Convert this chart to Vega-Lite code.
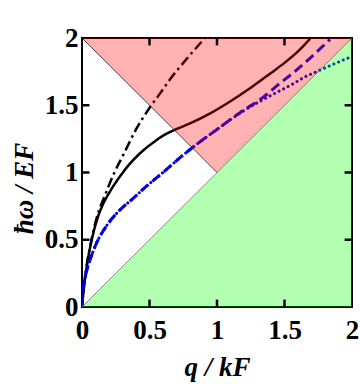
{
  "$schema": "https://vega.github.io/schema/vega-lite/v6.json",
  "width": 270,
  "height": 269,
  "autosize": "none",
  "padding": {"left": 82, "top": 38, "right": 8, "bottom": 81},
  "background": "white",
  "config": {
    "view": {"stroke": "black", "strokeWidth": 2},
    "axis": {
      "domain": false,
      "grid": false,
      "ticks": false,
      "format": "~g",
      "labelFont": "Liberation Serif",
      "labelFontWeight": "bold",
      "labelFontSize": 27,
      "labelColor": "black",
      "titleFont": "Liberation Serif",
      "titleFontWeight": "bold",
      "titleFontStyle": "italic",
      "titleFontSize": 27,
      "titleColor": "black"
    }
  },
  "datasets": {
    "curves": [
      {"curve": "solid", "q": 0, "w": 0},
      {"curve": "solid", "q": 0.005, "w": 0.05},
      {"curve": "solid", "q": 0.015, "w": 0.15},
      {"curve": "solid", "q": 0.035, "w": 0.3},
      {"curve": "solid", "q": 0.072, "w": 0.5},
      {"curve": "solid", "q": 0.121, "w": 0.68},
      {"curve": "solid", "q": 0.158, "w": 0.77},
      {"curve": "solid", "q": 0.22, "w": 0.88},
      {"curve": "solid", "q": 0.281, "w": 0.97},
      {"curve": "solid", "q": 0.35, "w": 1.06},
      {"curve": "solid", "q": 0.43, "w": 1.143},
      {"curve": "solid", "q": 0.553, "w": 1.242},
      {"curve": "solid", "q": 0.62, "w": 1.285},
      {"curve": "solid", "q": 0.689, "w": 1.318},
      {"curve": "solid", "q": 0.8, "w": 1.365},
      {"curve": "solid", "q": 0.95, "w": 1.44},
      {"curve": "solid", "q": 1.1, "w": 1.53},
      {"curve": "solid", "q": 1.25, "w": 1.63},
      {"curve": "solid", "q": 1.4, "w": 1.74},
      {"curve": "solid", "q": 1.5, "w": 1.815},
      {"curve": "solid", "q": 1.6, "w": 1.9},
      {"curve": "solid", "q": 1.69, "w": 1.995},
      {"curve": "dashdot", "q": 0, "w": 0},
      {"curve": "dashdot", "q": 0.005, "w": 0.06},
      {"curve": "dashdot", "q": 0.015, "w": 0.16},
      {"curve": "dashdot", "q": 0.035, "w": 0.31},
      {"curve": "dashdot", "q": 0.07, "w": 0.5},
      {"curve": "dashdot", "q": 0.12, "w": 0.7},
      {"curve": "dashdot", "q": 0.17, "w": 0.83},
      {"curve": "dashdot", "q": 0.24, "w": 1.0},
      {"curve": "dashdot", "q": 0.31, "w": 1.14},
      {"curve": "dashdot", "q": 0.4, "w": 1.32},
      {"curve": "dashdot", "q": 0.5, "w": 1.48},
      {"curve": "dashdot", "q": 0.58, "w": 1.59},
      {"curve": "dashdot", "q": 0.65, "w": 1.69},
      {"curve": "dashdot", "q": 0.78, "w": 1.85},
      {"curve": "dashdot", "q": 0.91, "w": 2.0},
      {"curve": "dashed", "q": 0, "w": 0},
      {"curve": "dashed", "q": 0.003, "w": 0.08},
      {"curve": "dashed", "q": 0.01, "w": 0.15},
      {"curve": "dashed", "q": 0.025, "w": 0.23},
      {"curve": "dashed", "q": 0.047, "w": 0.31},
      {"curve": "dashed", "q": 0.096, "w": 0.448},
      {"curve": "dashed", "q": 0.195, "w": 0.622},
      {"curve": "dashed", "q": 0.28, "w": 0.72},
      {"curve": "dashed", "q": 0.37, "w": 0.8},
      {"curve": "dashed", "q": 0.48, "w": 0.9},
      {"curve": "dashed", "q": 0.6, "w": 1.0},
      {"curve": "dashed", "q": 0.726, "w": 1.11},
      {"curve": "dashed", "q": 0.85, "w": 1.21},
      {"curve": "dashed", "q": 1.0, "w": 1.32},
      {"curve": "dashed", "q": 1.17, "w": 1.445},
      {"curve": "dashed", "q": 1.343, "w": 1.56},
      {"curve": "dashed", "q": 1.45, "w": 1.65},
      {"curve": "dashed", "q": 1.565, "w": 1.742},
      {"curve": "dashed", "q": 1.7, "w": 1.86},
      {"curve": "dashed", "q": 1.837, "w": 1.99},
      {"curve": "dotted", "q": 0, "w": 0},
      {"curve": "dotted", "q": 0.003, "w": 0.08},
      {"curve": "dotted", "q": 0.01, "w": 0.15},
      {"curve": "dotted", "q": 0.025, "w": 0.23},
      {"curve": "dotted", "q": 0.047, "w": 0.31},
      {"curve": "dotted", "q": 0.096, "w": 0.448},
      {"curve": "dotted", "q": 0.195, "w": 0.622},
      {"curve": "dotted", "q": 0.28, "w": 0.72},
      {"curve": "dotted", "q": 0.37, "w": 0.8},
      {"curve": "dotted", "q": 0.48, "w": 0.9},
      {"curve": "dotted", "q": 0.6, "w": 1.0},
      {"curve": "dotted", "q": 0.726, "w": 1.11},
      {"curve": "dotted", "q": 0.85, "w": 1.21},
      {"curve": "dotted", "q": 1.0, "w": 1.32},
      {"curve": "dotted", "q": 1.2, "w": 1.46},
      {"curve": "dotted", "q": 1.32, "w": 1.53},
      {"curve": "dotted", "q": 1.45, "w": 1.6},
      {"curve": "dotted", "q": 1.565, "w": 1.66},
      {"curve": "dotted", "q": 1.65, "w": 1.71},
      {"curve": "dotted", "q": 1.738, "w": 1.75},
      {"curve": "dotted", "q": 1.85, "w": 1.8},
      {"curve": "dotted", "q": 1.985, "w": 1.857}
    ],
    "pink": [
      {"q": 0, "lo": 2, "hi": 2},
      {"q": 1, "lo": 1, "hi": 2},
      {"q": 2, "lo": 2, "hi": 2}
    ],
    "green": [
      {"q": 0, "lo": 0, "hi": 0},
      {"q": 2, "lo": 0, "hi": 2}
    ],
    "diag1": [
      {"q": 0, "w": 2},
      {"q": 1, "w": 1}
    ],
    "diag2": [
      {"q": 0, "w": 0},
      {"q": 2, "w": 2}
    ],
    "ticks": [
      {"v": 0.5},
      {"v": 1},
      {"v": 1.5}
    ]
  },
  "layer": [
    {
      "data": {"name": "curves"},
      "transform": [{"filter": "datum.curve === 'dashdot'"}],
      "mark": {"type": "line", "color": "black", "strokeWidth": 2.5, "strokeDash": [10, 4, 2.5, 4], "interpolate": "monotone", "clip": true},
      "encoding": {
        "x": {"field": "q", "type": "quantitative", "scale": {"domain": [0, 2], "nice": false},
              "axis": {"values": [0, 0.5, 1, 1.5, 2], "labelPadding": 10, "title": "q / kF", "titleY": 68, "titleBaseline": "alphabetic", "labelFlush": false}},
        "y": {"field": "w", "type": "quantitative", "scale": {"domain": [0, 2], "nice": false},
              "axis": {"values": [0, 0.5, 1, 1.5, 2], "labelPadding": 4, "title": "ħω / EF", "titleX": -50, "titleY": 150, "titleAlign": "center", "titleBaseline": "alphabetic", "labelFlush": false}},
        "order": {"field": "q", "type": "quantitative"}
      }
    },
    {
      "data": {"name": "curves"},
      "transform": [{"filter": "datum.curve === 'solid'"}],
      "mark": {"type": "line", "color": "black", "strokeWidth": 2.5, "interpolate": "monotone", "clip": true},
      "encoding": {
        "x": {"field": "q", "type": "quantitative"},
        "y": {"field": "w", "type": "quantitative"},
        "order": {"field": "q", "type": "quantitative"}
      }
    },
    {
      "data": {"name": "curves"},
      "transform": [{"filter": "datum.curve === 'dashed'"}],
      "mark": {"type": "line", "color": "#0000e0", "strokeWidth": 3, "strokeDash": [10, 5], "interpolate": "monotone", "clip": true},
      "encoding": {
        "x": {"field": "q", "type": "quantitative"},
        "y": {"field": "w", "type": "quantitative"},
        "order": {"field": "q", "type": "quantitative"}
      }
    },
    {
      "data": {"name": "curves"},
      "transform": [{"filter": "datum.curve === 'dotted'"}],
      "mark": {"type": "line", "color": "#0000e0", "strokeWidth": 3, "strokeDash": [0.1, 5], "strokeCap": "round", "interpolate": "monotone", "clip": true},
      "encoding": {
        "x": {"field": "q", "type": "quantitative"},
        "y": {"field": "w", "type": "quantitative"},
        "order": {"field": "q", "type": "quantitative"}
      }
    },
    {
      "data": {"name": "pink"},
      "mark": {"type": "area", "color": "#ff0000", "opacity": 0.3},
      "encoding": {
        "x": {"field": "q", "type": "quantitative"},
        "y": {"field": "lo", "type": "quantitative"},
        "y2": {"field": "hi"}
      }
    },
    {
      "data": {"name": "green"},
      "mark": {"type": "area", "color": "#00ff00", "opacity": 0.3},
      "encoding": {
        "x": {"field": "q", "type": "quantitative"},
        "y": {"field": "lo", "type": "quantitative"},
        "y2": {"field": "hi"}
      }
    },
    {
      "data": {"name": "diag1"},
      "mark": {"type": "line", "color": "#222222", "strokeWidth": 0.8},
      "encoding": {
        "x": {"field": "q", "type": "quantitative"},
        "y": {"field": "w", "type": "quantitative"}
      }
    },
    {
      "data": {"name": "diag2"},
      "mark": {"type": "line", "color": "#667766", "strokeWidth": 0.8},
      "encoding": {
        "x": {"field": "q", "type": "quantitative"},
        "y": {"field": "w", "type": "quantitative"}
      }
    },
    {
      "data": {"name": "ticks"},
      "mark": {"type": "rule", "color": "black", "strokeWidth": 2.5},
      "encoding": {
        "x": {"field": "v", "type": "quantitative"},
        "y": {"datum": 0, "type": "quantitative"},
        "y2": {"datum": 0.055}
      }
    },
    {
      "data": {"name": "ticks"},
      "mark": {"type": "rule", "color": "black", "strokeWidth": 2.5},
      "encoding": {
        "x": {"field": "v", "type": "quantitative"},
        "y": {"datum": 2, "type": "quantitative"},
        "y2": {"datum": 1.945}
      }
    },
    {
      "data": {"name": "ticks"},
      "mark": {"type": "rule", "color": "black", "strokeWidth": 2.5},
      "encoding": {
        "y": {"field": "v", "type": "quantitative"},
        "x": {"datum": 0, "type": "quantitative"},
        "x2": {"datum": 0.055}
      }
    },
    {
      "data": {"name": "ticks"},
      "mark": {"type": "rule", "color": "black", "strokeWidth": 2.5},
      "encoding": {
        "y": {"field": "v", "type": "quantitative"},
        "x": {"datum": 2, "type": "quantitative"},
        "x2": {"datum": 1.945}
      }
    }
  ]
}
